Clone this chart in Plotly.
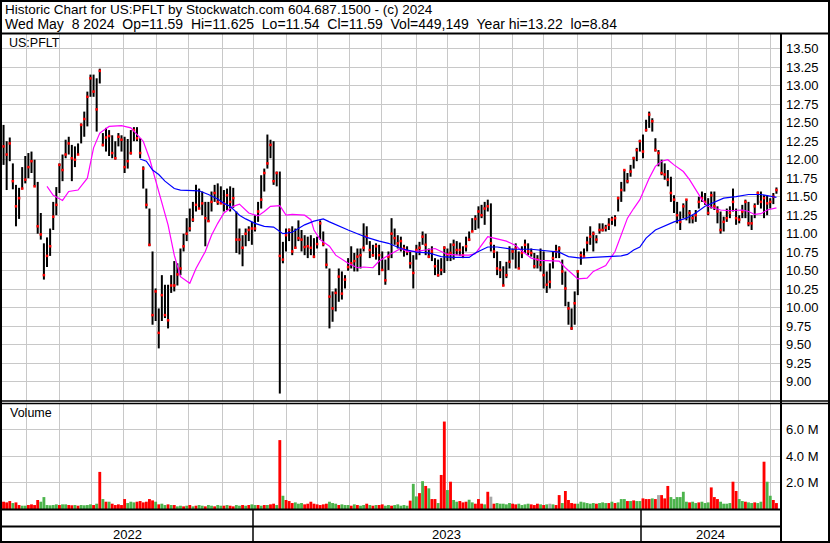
import plotly.graph_objects as go

# ---------------- data (one bar = two trading days) ----------------
high = [12.47, 12.25, 12.30, 11.95, 11.66, 11.62, 11.90, 12.05, 12.09, 12.11,
        12.00, 11.70, 11.28, 10.87, 10.95, 11.07, 11.43, 11.63, 11.95, 12.07,
        12.27, 12.31, 12.20, 12.18, 12.22, 12.49, 12.65, 12.92, 13.15, 13.15,
        13.10, 13.23, 12.36, 12.43, 12.40, 12.33, 12.25, 12.36, 12.33, 12.31,
        12.28, 12.40, 12.44, 12.44, 12.29, 11.91, 11.61, 11.34, 10.76, 10.26,
        9.99, 10.44, 10.31, 10.31, 10.44, 10.63, 10.60, 10.80, 11.00, 11.21,
        11.34, 11.43, 11.66, 11.61, 11.57, 11.43, 11.43, 11.57, 11.66, 11.68,
        11.64, 11.59, 11.61, 11.64, 11.62, 11.30, 11.07, 10.98, 11.07, 11.10,
        11.16, 11.25, 11.43, 11.79, 11.88, 12.34, 12.27, 12.25, 11.84, 11.84,
        10.89, 11.07, 11.07, 11.10, 11.07, 11.18, 11.05, 10.98, 10.96, 10.98,
        10.94, 10.96, 11.18, 11.03, 10.80, 10.53, 10.22, 10.26, 10.53, 10.49,
        10.44, 10.67, 10.83, 10.74, 10.80, 10.80, 11.14, 11.10, 10.90, 10.85,
        10.87, 10.85, 10.76, 10.65, 10.76, 11.21, 11.07, 10.98, 10.96, 10.85,
        10.83, 10.76, 10.71, 10.85, 10.89, 11.03, 11.00, 10.80, 10.83, 10.67,
        10.65, 10.67, 10.83, 10.80, 10.87, 10.92, 10.90, 10.88, 10.83, 10.96,
        11.03, 11.21, 11.25, 11.37, 11.39, 11.43, 11.46, 11.41, 10.85, 10.76,
        10.63, 10.56, 10.62, 10.83, 10.80, 10.87, 10.76, 10.83, 10.92, 10.87,
        10.80, 10.74, 10.71, 10.80, 10.76, 10.49, 10.60, 10.76, 10.85, 10.83,
        10.65, 10.49, 10.08, 9.99, 10.22, 10.51, 10.76, 10.80, 10.96, 11.10,
        11.03, 10.98, 11.14, 11.14, 11.12, 11.21, 11.23, 11.25, 11.50, 11.70,
        11.86, 11.82, 11.93, 12.04, 12.16, 12.27, 12.34, 12.54, 12.65, 12.56,
        12.29, 12.13, 12.00, 11.95, 11.86, 11.77, 11.52, 11.43, 11.30, 11.41,
        11.46, 11.32, 11.25, 11.32, 11.50, 11.57, 11.55, 11.48, 11.57, 11.57,
        11.37, 11.30, 11.23, 11.34, 11.37, 11.61, 11.34, 11.25, 11.39, 11.46,
        11.43, 11.25, 11.41, 11.57, 11.57, 11.52, 11.52, 11.48, 11.55, 11.625]

low = [11.93, 11.59, 11.98, 11.60, 11.10, 11.20, 11.60, 11.68, 11.75, 11.82,
       11.64, 11.00, 10.92, 10.38, 10.55, 10.70, 11.05, 11.25, 11.55, 11.71,
       12.02, 12.07, 11.71, 11.90, 12.07, 12.22, 12.31, 12.45, 12.85, 12.85,
       12.38, 13.03, 12.18, 12.11, 12.05, 12.02, 12.00, 12.18, 12.11, 11.82,
       11.88, 12.07, 12.25, 12.25, 12.02, 11.61, 11.34, 10.83, 9.77, 9.82,
       9.45, 9.82, 9.86, 9.72, 10.20, 10.22, 10.30, 10.44, 10.76, 10.90,
       11.03, 11.16, 11.30, 11.34, 11.25, 10.83, 11.16, 11.30, 11.43, 11.39,
       11.41, 11.30, 11.32, 11.30, 11.35, 10.74, 10.72, 10.56, 10.83, 10.90,
       10.85, 11.03, 11.16, 11.34, 11.57, 11.88, 12.02, 11.66, 11.64, 8.84,
       10.60, 10.76, 10.90, 10.71, 10.80, 10.90, 10.76, 10.71, 10.67, 10.71,
       10.67, 10.80, 10.92, 10.83, 10.53, 9.72, 9.81, 9.95, 10.08, 10.11,
       10.26, 10.50, 10.53, 10.49, 10.49, 10.53, 10.76, 10.85, 10.67, 10.69,
       10.65, 10.44, 10.50, 10.31, 10.51, 10.67, 10.85, 10.80, 10.76, 10.69,
       10.71, 10.53, 10.26, 10.65, 10.71, 10.85, 10.71, 10.67, 10.63, 10.44,
       10.42, 10.44, 10.47, 10.63, 10.63, 10.65, 10.71, 10.70, 10.67, 10.76,
       10.90, 11.03, 11.05, 11.07, 11.21, 11.12, 11.30, 10.76, 10.67, 10.44,
       10.40, 10.29, 10.40, 10.53, 10.65, 10.53, 10.53, 10.67, 10.74, 10.71,
       10.69, 10.53, 10.53, 10.49, 10.26, 10.20, 10.26, 10.53, 10.67, 10.67,
       10.31, 10.02, 9.77, 9.70, 9.77, 10.17, 10.58, 10.67, 10.76, 10.85,
       10.76, 10.87, 11.00, 11.03, 11.03, 11.05, 11.12, 11.10, 11.30, 11.43,
       11.57, 11.68, 11.77, 11.88, 11.98, 12.11, 12.02, 12.38, 12.43, 12.38,
       12.11, 11.91, 11.79, 11.73, 11.64, 11.43, 11.28, 11.14, 11.05, 11.21,
       11.18, 11.14, 11.14, 11.16, 11.34, 11.43, 11.39, 11.25, 11.34, 11.32,
       11.14, 11.00, 11.03, 11.16, 11.21, 11.30, 11.12, 11.14, 11.21, 11.21,
       11.10, 11.05, 11.21, 11.39, 11.34, 11.21, 11.25, 11.34, 11.40, 11.54]

close = [12.18, 12.07, 12.22, 11.71, 11.37, 11.48, 11.61, 11.73, 11.90, 11.98,
         11.64, 11.10, 10.99, 10.44, 10.70, 10.83, 11.23, 11.39, 11.93, 11.86,
         12.07, 12.22, 12.02, 12.00, 12.07, 12.47, 12.55, 12.85, 13.10, 12.92,
         12.68, 13.20, 12.20, 12.30, 12.32, 12.09, 12.02, 12.31, 12.27, 11.90,
         11.98, 12.09, 12.40, 12.29, 12.09, 11.88, 11.39, 10.85, 9.90, 10.22,
         9.66, 10.17, 9.90, 9.83, 10.30, 10.30, 10.45, 10.53, 10.83, 11.00,
         11.07, 11.19, 11.39, 11.34, 11.41, 11.21, 11.17, 11.43, 11.55, 11.43,
         11.41, 11.41, 11.52, 11.43, 11.48, 10.92, 10.92, 10.81, 11.00, 11.05,
         11.07, 11.07, 11.30, 11.46, 11.82, 11.95, 12.20, 11.71, 11.82, 10.70,
         10.65, 10.98, 11.05, 10.76, 10.81, 10.94, 10.92, 10.82, 10.83, 10.81,
         10.69, 10.86, 11.14, 10.86, 10.58, 10.15, 9.99, 10.20, 10.42, 10.19,
         10.38, 10.55, 10.60, 10.63, 10.69, 10.71, 10.81, 10.96, 10.78, 10.71,
         10.83, 10.71, 10.51, 10.37, 10.69, 11.00, 10.94, 10.87, 10.90, 10.80,
         10.76, 10.60, 10.47, 10.78, 10.81, 10.96, 10.85, 10.69, 10.76, 10.56,
         10.44, 10.51, 10.81, 10.72, 10.74, 10.85, 10.78, 10.78, 10.71, 10.83,
         10.92, 11.03, 11.20, 11.30, 11.25, 11.34, 11.37, 10.87, 10.76, 10.53,
         10.51, 10.30, 10.44, 10.62, 10.76, 10.80, 10.53, 10.74, 10.85, 10.76,
         10.74, 10.56, 10.65, 10.58, 10.44, 10.31, 10.35, 10.67, 10.76, 10.80,
         10.49, 10.26, 9.99, 9.72, 10.06, 10.49, 10.71, 10.69, 10.88, 10.96,
         11.00, 10.92, 11.05, 11.05, 11.08, 11.12, 11.19, 11.21, 11.48, 11.59,
         11.86, 11.71, 11.84, 12.02, 12.13, 12.25, 12.11, 12.40, 12.61, 12.52,
         12.13, 12.09, 11.82, 11.80, 11.73, 11.55, 11.46, 11.25, 11.16, 11.37,
         11.46, 11.28, 11.21, 11.25, 11.43, 11.48, 11.43, 11.28, 11.52, 11.37,
         11.30, 11.05, 11.16, 11.21, 11.28, 11.43, 11.21, 11.19, 11.30, 11.43,
         11.14, 11.14, 11.37, 11.55, 11.43, 11.48, 11.41, 11.43, 11.50, 11.59]

# volume per bar, millions of shares
volume = [0.55, 0.50, 0.60, 0.45, 0.50, 0.30, 0.25, 0.25, 0.30, 0.35,
          0.30, 0.68, 0.55, 0.90, 0.30, 0.28, 0.30, 0.35, 0.30, 0.35,
          0.35, 0.30, 0.28, 0.30, 0.25, 0.30, 0.28, 0.30, 0.35, 0.30,
          0.40, 2.80, 0.75, 0.55, 0.55, 0.40, 0.30, 0.35, 0.30, 0.75,
          0.45, 0.55, 0.50, 0.55, 0.60, 0.50, 0.55, 0.75, 0.65, 0.55,
          0.35, 0.40, 0.30, 0.35, 0.30, 0.30, 0.20, 0.25, 0.20, 0.25,
          0.30, 0.20, 0.25, 0.30, 0.25, 0.20, 0.30, 0.25, 0.20, 0.30,
          0.25, 0.25, 0.30, 0.25, 0.20, 0.30, 0.25, 0.30, 0.25, 0.30,
          0.35, 0.30, 0.30, 0.25, 0.30, 0.30, 0.35, 0.40, 0.30, 5.20,
          1.00, 0.68, 0.60, 0.45, 0.50, 0.40, 0.45, 0.35, 0.40, 0.55,
          0.40, 0.35, 0.30, 0.35, 0.40, 0.55, 0.45, 0.40, 0.30, 0.35,
          0.30, 0.30, 0.25, 0.35, 0.30, 0.25, 0.30, 0.40, 0.30, 0.25,
          0.30, 0.30, 0.35, 0.25, 0.30, 0.25, 0.30, 0.35, 0.25, 0.30,
          0.25, 0.63, 1.90, 0.95, 1.20, 2.10, 1.74, 1.56, 0.75, 0.75,
          0.45, 2.57, 6.60, 1.43, 2.06, 0.68, 0.55, 0.60, 0.50, 0.55,
          0.70, 0.50, 0.40, 0.75, 0.40, 0.35, 1.30, 0.93, 0.40, 0.45,
          0.40, 0.40, 0.35, 0.45, 0.40, 0.35, 0.40, 0.30, 0.35, 0.40,
          0.35, 0.30, 0.40, 0.35, 0.30, 0.35, 0.40, 0.35, 0.30, 1.05,
          0.45, 1.36, 0.68, 0.45, 0.40, 0.40, 0.55, 0.50, 0.45, 0.40,
          0.45, 0.40, 0.45, 0.50, 0.45, 0.45, 0.55, 0.45, 0.50, 0.75,
          0.75, 0.60, 0.60, 0.65, 0.60, 0.60, 0.80, 0.75, 0.75, 0.80,
          0.75, 1.05, 1.05, 0.80, 1.74, 0.90, 0.75, 0.90, 0.90, 1.30,
          0.55, 0.50, 0.55, 0.45, 0.50, 0.55, 0.45, 0.50, 1.63, 0.90,
          0.75, 0.55, 0.40, 0.40, 0.45, 2.06, 1.36, 0.75, 0.60, 0.55,
          0.50, 0.45, 0.50, 0.45, 0.55, 3.57, 2.06, 1.00, 0.68, 0.45]

# direction of each volume bar as coloured on the reference: r = down, g = up, n = unchanged
volume_dir = ("rrrgrrg" "grrrrgg" "ggggrggrrgrggggr" "grg" "rgrrrrr" "gggrrrrrrgr"
              "ggrgrggrgrgrg" "grggrggrgrrggrgrggr" "grgrrgr" "grrrgggrrrrrrrrgggrggg"
              "rgrggrgrgrrggrgggggr" "ggrgrg" "rrgrrgr" "ggrrrggrrrgr" "nr"
              "gggggrrggggrrrg" "rgngrrgr" "rrrggggggrggg" "rgrggg" "rgrggrrrgrn"
              "rrrgg" "ggggrggrggg" "rrrggggr" "rggrggrgg" "rggrr")

# moving averages as drawn on the reference (bar index, price)
ma_short_bar = [14, 16, 19, 21, 24, 27, 29, 31, 34, 38, 41, 45, 47, 49, 51, 53, 55, 57,
                60, 62, 65, 67, 69, 71, 74, 76, 79, 82, 84, 86, 89, 91, 93, 97, 99, 100,
                102, 105, 107, 111, 114, 116, 119, 121, 124, 126, 128, 130, 133, 136, 139,
                141, 143, 147, 150, 152, 154, 156, 158, 162, 165, 166, 170, 173, 179, 181,
                185, 188, 190, 192, 194, 197, 199, 201, 203, 205, 208, 210, 212, 214, 216,
                219, 221, 223, 225, 227, 229, 231, 234, 236, 238, 240, 242, 244, 246, 249]
ma_short_val = [11.64, 11.52, 11.45, 11.57, 11.59, 11.75, 12.16, 12.36, 12.45, 12.46, 12.43,
                12.25, 12.02, 11.71, 11.43, 11.12, 10.71, 10.42, 10.33, 10.53, 10.76, 10.98,
                11.14, 11.28, 11.37, 11.40, 11.28, 11.24, 11.30, 11.37, 11.38, 11.25, 11.26,
                11.25, 11.19, 11.05, 10.92, 10.83, 10.71, 10.60, 10.54, 10.55, 10.54, 10.63,
                10.71, 10.76, 10.80, 10.76, 10.76, 10.78, 10.80, 10.76, 10.72, 10.71, 10.71,
                10.73, 10.85, 10.96, 10.94, 10.90, 10.84, 10.80, 10.67, 10.64, 10.63, 10.54,
                10.39, 10.40, 10.49, 10.53, 10.57, 10.76, 11.00, 11.21, 11.34, 11.46, 11.75,
                11.91, 11.98, 12.00, 11.93, 11.84, 11.73, 11.59, 11.46, 11.37, 11.34, 11.32,
                11.31, 11.32, 11.32, 11.30, 11.26, 11.27, 11.32, 11.35]

ma_long_bar = [44, 46, 48, 50, 52, 55, 57, 61, 63, 66, 69, 71, 73, 76, 78, 81, 84, 87, 90,
               93, 97, 100, 103, 105, 107, 111, 114, 117, 121, 124, 128, 133, 137, 141, 145,
               150, 152, 154, 156, 159, 162, 164, 170, 174, 179, 182, 186, 190, 194, 199,
               201, 203, 205, 207, 210, 213, 216, 220, 223, 226, 229, 232, 236, 240, 244,
               247, 249]
ma_long_val = [12.01, 11.98, 11.86, 11.80, 11.71, 11.61, 11.59, 11.59, 11.58, 11.53, 11.47,
               11.41, 11.37, 11.25, 11.20, 11.14, 11.10, 11.09, 11.00, 11.02, 11.12, 11.17,
               11.20, 11.16, 11.12, 11.05, 11.00, 10.95, 10.90, 10.87, 10.80, 10.75, 10.74,
               10.69, 10.68, 10.68, 10.74, 10.78, 10.82, 10.82, 10.80, 10.79, 10.79, 10.77,
               10.75, 10.69, 10.67, 10.68, 10.69, 10.70, 10.72, 10.78, 10.82, 10.94, 11.05,
               11.11, 11.16, 11.21, 11.28, 11.37, 11.43, 11.48, 11.50, 11.53, 11.53, 11.50,
               11.49]

price_ticks = [9.00, 9.25, 9.50, 9.75, 10.00, 10.25, 10.50, 10.75, 11.00, 11.25, 11.50,
               11.75, 12.00, 12.25, 12.50, 12.75, 13.00, 13.25, 13.50]
volume_ticks = [2.0, 4.0, 6.0]
volume_tick_labels = ["2.0 M", "4.0 M", "6.0 M"]
year_labels = ["2022", "2023", "2024"]

header1 = "Historic Chart for US:PFLT by Stockwatch.com 604.687.1500 - (c) 2024"
header2 = ("Wed May\u00a0\u00a08 2024\u00a0\u00a0Op=11.59\u00a0\u00a0Hi=11.625\u00a0\u00a0Lo=11.54"
           "\u00a0\u00a0Cl=11.59\u00a0\u00a0Vol=449,149\u00a0\u00a0Year hi=13.22\u00a0\u00a0lo=8.84")

# ---------------- layout geometry (pixels) ----------------
W, H = 830, 543
L, R, T, B = 2, 781, 34, 509
PRICE_BOTTOM, VOL_TOP = 401, 403
# month boundary gridlines, in bar units
month_grid = [7.55, 17.9, 28.2, 38.5, 49.4, 59.7, 70.4, 80.4, 91.3, 101.0, 111.3, 121.9,
              132.9, 142.9, 153.2, 164.1, 173.8, 184.8, 195.7, 205.7, 216.6, 226.6, 236.9, 247.2]


def fx(x):
    return (x - L) / (R - L)


def fy(y):
    return (B - y) / (B - T)


n = len(close)
idx = list(range(n))

# high-low bars as one line trace with gaps
bx, by = [], []
for i in idx:
    bx += [i, i, None]
    by += [low[i], high[i], None]

dir_color = {"r": "#ff0000", "g": "#4cb44c", "n": "#a8a8a8"}
vcolors = [dir_color[volume_dir[i]] if i < len(volume_dir) else "#ff0000" for i in idx]

FONT = "Liberation Sans, Arial, sans-serif"
GRID = "#c8c8c8"

fig = go.Figure()
fig.add_trace(go.Scatter(x=bx, y=by, mode="lines", line=dict(color="black", width=2),
                         hoverinfo="skip", xaxis="x", yaxis="y"))
fig.add_trace(go.Scatter(x=idx, y=close, mode="markers",
                         marker=dict(symbol="square", size=2.5, color="#ff0000", line=dict(width=0)),
                         hoverinfo="skip", xaxis="x", yaxis="y"))
fig.add_trace(go.Scatter(x=ma_short_bar, y=ma_short_val, mode="lines",
                         line=dict(color="#ff00ff", width=1.2), hoverinfo="skip", xaxis="x", yaxis="y"))
fig.add_trace(go.Scatter(x=ma_long_bar, y=ma_long_val, mode="lines",
                         line=dict(color="#0000ff", width=1.2), hoverinfo="skip", xaxis="x", yaxis="y"))
fig.add_trace(go.Bar(x=idx, y=volume, marker=dict(color=vcolors, line=dict(width=0)), width=0.92,
                     hoverinfo="skip", xaxis="x2", yaxis="y2"))

xr = [-0.5, (R - 3.55) / 3.104]
common_x = dict(range=xr, tickvals=month_grid, showticklabels=False, ticks="",
                showgrid=True, gridcolor=GRID, gridwidth=1, zeroline=False, showline=False,
                fixedrange=True)

fig.update_layout(
    width=W, height=H,
    margin=dict(l=L, r=W - R, t=T, b=H - B),
    paper_bgcolor="white", plot_bgcolor="white",
    showlegend=False, hovermode=False,
    xaxis=dict(domain=[0, 1], anchor="y", **common_x),
    xaxis2=dict(domain=[0, 1], anchor="y2", matches="x", **common_x),
    yaxis=dict(domain=[fy(PRICE_BOTTOM), 1], side="right", anchor="x",
               range=[13.5 - (PRICE_BOTTOM - 48.7) / 74, 13.5 + (48.7 - T) / 74],
               tickvals=price_ticks, ticktext=[f"{v:.2f}" for v in price_ticks],
               ticks="", showgrid=True, gridcolor=GRID, zeroline=False, showline=False,
               tickfont=dict(family=FONT, size=13, color="black"), ticklabelstandoff=4),
    yaxis2=dict(domain=[0, fy(VOL_TOP)], side="right", anchor="x2", range=[0, 8.0],
                tickvals=volume_ticks, ticktext=volume_tick_labels,
                ticks="", showgrid=True, gridcolor=GRID, zeroline=False, showline=False,
                tickfont=dict(family=FONT, size=13, color="black"), ticklabelstandoff=4),
)

shapes = []


def hline(y, x0, x1, w=2):
    shapes.append(dict(type="line", xref="paper", yref="paper", x0=fx(x0), x1=fx(x1),
                       y0=fy(y), y1=fy(y), line=dict(color="black", width=w)))


def vline(x, y0, y1, w=2):
    shapes.append(dict(type="line", xref="paper", yref="paper", x0=fx(x), x1=fx(x),
                       y0=fy(y0), y1=fy(y1), line=dict(color="black", width=w)))


# outer frame
hline(1, 0, W)
hline(542, 0, W)
vline(1, 0, H)
vline(829, 0, H)
# panel frames
hline(33.5, 0, W)
hline(401, 0, W, 1.5)
hline(403.5, 0, W, 1.5)
hline(509.5, 0, R)
hline(526.5, 0, R)
vline(781, 33, H)
vline(253, 509, 542, 1.5)
vline(641, 509, 542, 1.5)
fig.update_layout(shapes=shapes)

ann = []


def text(s, x, y, size=13, xanchor="left"):
    ann.append(dict(text=s, x=fx(x), y=fy(y), xref="paper", yref="paper", showarrow=False,
                    xanchor=xanchor, yanchor="middle", font=dict(family=FONT, size=size, color="black")))


text(header1, 3, 9, 13.5)
text(header2, 3, 24, 14)
text("US:PFLT", 7, 43, 12.5)
text("Volume", 8, 413, 12.5)
for lab, cx in zip(year_labels, [127, 446, 710]):
    text(lab, cx, 534, 13, "center")
fig.update_layout(annotations=ann)

fig.write_html("out.html", config={"displayModeBar": False},
               post_script="document.body.style.margin='0px';document.body.style.padding='0px';")
